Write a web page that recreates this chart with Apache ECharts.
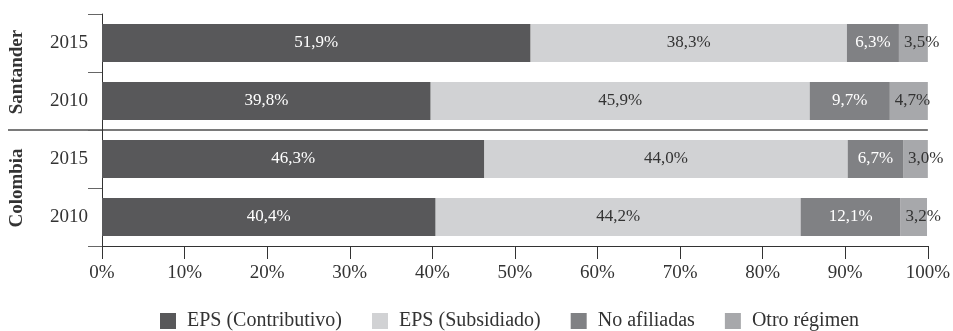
<!DOCTYPE html>
<html><head><meta charset="utf-8">
<script src="https://cdn.jsdelivr.net/npm/echarts@6/dist/echarts.min.js"></script>
<style>html,body{margin:0;padding:0;background:#fff}#c{width:953px;height:331px}</style>
</head><body><div id="c"></div>
<script>
// bottom to top
const years = ['2010', '2015', '2010', '2015'];
const groups = ['Colombia', 'Santander'];
const seriesNames = ['EPS (Contributivo)', 'EPS (Subsidiado)', 'No afiliadas', 'Otro régimen'];
const contributivo = [40.4, 46.3, 39.8, 51.9];
const subsidiado = [44.2, 44.0, 45.9, 38.3];
const noAfiliadas = [12.1, 6.7, 9.7, 6.3];
const otro = [3.2, 3.0, 4.7, 3.5];
const xTicks = [0, 10, 20, 30, 40, 50, 60, 70, 80, 90, 100];

const FONT = 'Liberation Serif';
const colors = ['#58585a', '#d1d2d4', '#808184', '#a7a8ab'];
const labelColors = ['#ffffff', '#333333', '#ffffff', '#333333'];
const labelPos = ['inside', 'inside', 'inside', 'insideLeft'];
const values = [contributivo, subsidiado, noAfiliadas, otro];

const chart = echarts.init(document.getElementById('c'), null, {renderer: 'canvas'});
const option = {
  animation: false,
  textStyle: {fontFamily: FONT},
  grid: {left: 102, right: 21, top: 14, bottom: 85},
  legend: {
    top: 311, left: 160, padding: 0, itemWidth: 16, itemHeight: 16, itemGap: 30,
    icon: 'rect',
    textStyle: {fontFamily: FONT, fontSize: 20, color: '#333', padding: [0, 0, 0, 6]},
    data: seriesNames
  },
  xAxis: {
    type: 'value', min: 0, max: 100, interval: 10,
    axisLine: {show: true, lineStyle: {color: '#333'}},
    axisTick: {show: true, length: 13, lineStyle: {color: '#333'}},
    splitLine: {show: false},
    axisLabel: {color: '#333', fontSize: 19, fontFamily: FONT, margin: 18,
      formatter: v => xTicks.includes(v) ? v + '%' : ''}
  },
  yAxis: [{
    type: 'category', data: years,
    axisLine: {show: true, lineStyle: {color: '#333'}},
    axisTick: {show: true, length: 14, lineStyle: {color: '#666'}},
    axisLabel: {color: '#333', fontSize: 19, fontFamily: FONT, margin: 14}
  }, {
    type: 'category', data: groups, position: 'left',
    axisLine: {show: false}, axisTick: {show: false},
    axisLabel: {color: '#333', fontSize: 19, fontWeight: 'bold', fontFamily: FONT,
      rotate: 90, margin: 75}
  }],
  series: seriesNames.map((n, i) => ({
    name: n, type: 'bar', stack: 'total', barWidth: 38,
    itemStyle: {color: colors[i]},
    label: {show: true, position: labelPos[i], distance: 5, color: labelColors[i],
      fontFamily: FONT, fontSize: 17,
      formatter: p => p.value.toFixed(1).replace('.', ',') + '%'},
    data: values[i]
  }))
};
chart.setOption(option);
// separator between the two groups
const p1 = chart.convertToPixel({gridIndex: 0}, [100, 1]);
const p2 = chart.convertToPixel({gridIndex: 0}, [100, 2]);
const sepY = Math.round((p1[1] + p2[1]) / 2);
chart.setOption({graphic: [{type: 'line', shape: {x1: 8, y1: sepY, x2: p1[0], y2: sepY},
  style: {stroke: '#7a7a7a', lineWidth: 2}}]});
</script></body></html>
